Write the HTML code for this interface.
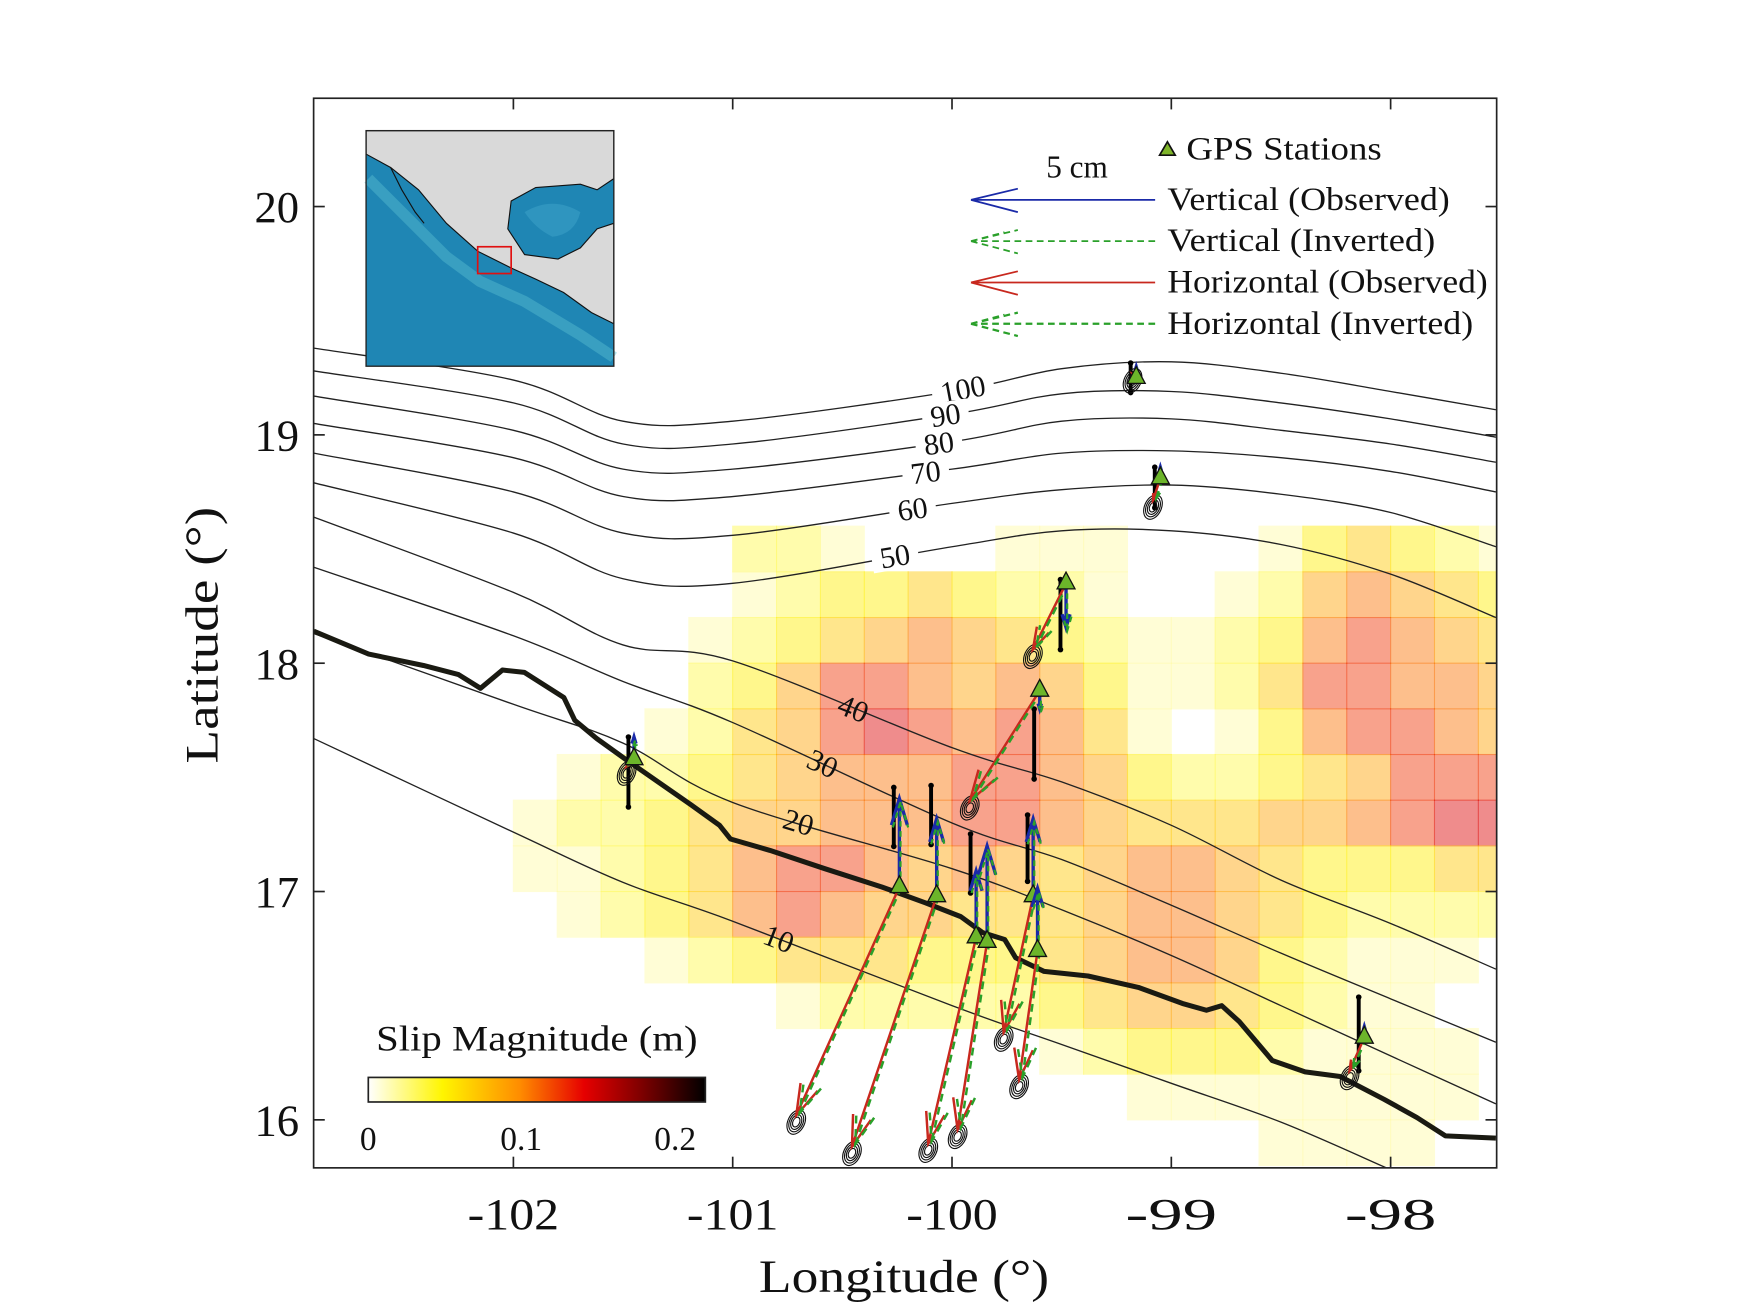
<!DOCTYPE html>
<html><head><meta charset="utf-8"><style>
html,body{margin:0;padding:0;background:#fff;}
svg{display:block;}
text{font-family:"Liberation Serif",serif;fill:#111;}
</style></head><body>
<svg id="fig" width="1750" height="1313" viewBox="0 0 1568 1176" preserveAspectRatio="none" xmlns="http://www.w3.org/2000/svg">
<defs><clipPath id="plotclip"><rect x="281" y="88" width="1060" height="958"/></clipPath></defs>
<rect x="0" y="0" width="1568" height="1176" fill="#fff"/>
<g id="heat" clip-path="url(#plotclip)"></g>
<g id="contours" clip-path="url(#plotclip)"></g>
<g id="coast" clip-path="url(#plotclip)"></g>
<g id="stations" clip-path="url(#plotclip)"></g>
<rect x="281" y="88" width="1060" height="958" fill="none" stroke="#222" stroke-width="1.5"/>
<g id="ticks"></g>
<g id="inset">
  <rect x="328" y="117" width="222" height="211" fill="#1f86b4"/>
  <path d="M328,117 L550,117 L550,160 L535,170 L520,165 L480,168 L458,180 L455,205 L470,228 L500,232 L520,222 L535,205 L550,200 L550,290 L530,280 L505,262 L480,250 L458,240 L428,225 L400,200 L375,170 L350,150 L328,138 Z" fill="#d9d9d9" stroke="#111" stroke-width="1"/>
  <path d="M470,190 Q495,175 520,190 Q515,210 495,212 Q480,205 470,190 Z" fill="#2f95bf"/>
  <path d="M350,150 L360,170 L372,190 L380,200" fill="none" stroke="#111" stroke-width="1"/>
  <path d="M330,160 L345,175 L400,230 L430,252 L470,270 L520,300 L550,320" fill="none" stroke="#58bfd0" stroke-width="10" opacity="0.45"/>
  <rect x="428" y="221" width="30" height="24" fill="none" stroke="#e01010" stroke-width="1.5"/>
  <rect x="328" y="117" width="222" height="211" fill="none" stroke="#222" stroke-width="1.2"/>
</g>
<g id="legend">
  <g>
    <polygon points="1046,127 1039,139 1053,139" fill="#7fb52a" stroke="#111" stroke-width="1.5"/>
    <text x="1063" y="143" font-size="29" textLength="175" lengthAdjust="spacingAndGlyphs">GPS Stations</text>
  </g>
  <text x="965" y="159" font-size="28" text-anchor="middle">5 cm</text>
  <g>
    <path d="M1035,179 L870,179 M870,179 L912,169 M870,179 L912,190" stroke="#1a2aa8" stroke-width="1.6" fill="none"/>
    <text x="1046" y="188" font-size="29" textLength="253" lengthAdjust="spacingAndGlyphs">Vertical (Observed)</text>
  </g>
  <g>
    <path d="M1035,216 L870,216 M870,216 L912,206 M870,216 L912,227 M870,216 L900,208" stroke="#2aa02a" stroke-width="1.6" fill="none" stroke-dasharray="6,4"/>
    <text x="1046" y="225" font-size="29" textLength="240" lengthAdjust="spacingAndGlyphs">Vertical (Inverted)</text>
  </g>
  <g>
    <path d="M1035,253 L870,253 M870,253 L912,243 M870,253 L912,264" stroke="#c8281e" stroke-width="1.6" fill="none"/>
    <text x="1046" y="262" font-size="29" textLength="287" lengthAdjust="spacingAndGlyphs">Horizontal (Observed)</text>
  </g>
  <g>
    <path d="M1035,290 L870,290 M870,290 L912,280 M870,290 L912,301 M870,290 L900,282" stroke="#2aa02a" stroke-width="2" fill="none" stroke-dasharray="6,4"/>
    <text x="1046" y="299" font-size="29" textLength="274" lengthAdjust="spacingAndGlyphs">Horizontal (Inverted)</text>
  </g>
</g>
<g id="colorbar">
  <text x="337" y="941" font-size="32" textLength="288" lengthAdjust="spacingAndGlyphs">Slip Magnitude (m)</text>
  <defs><linearGradient id="hotgrad" x1="0" x2="1" y1="0" y2="0">
    <stop offset="0" stop-color="#ffffff"/><stop offset="0.22" stop-color="#fff500"/>
    <stop offset="0.45" stop-color="#ff8c00"/><stop offset="0.64" stop-color="#e60000"/>
    <stop offset="0.82" stop-color="#780000"/><stop offset="1" stop-color="#000"/></linearGradient></defs>
  <rect x="330" y="965" width="302" height="22" fill="url(#hotgrad)" stroke="#222" stroke-width="1.5"/>
  <text x="330" y="1030" font-size="30" text-anchor="middle">0</text>
  <text x="467" y="1030" font-size="30" text-anchor="middle">0.1</text>
  <text x="605" y="1030" font-size="30" text-anchor="middle">0.2</text>
</g>
<text x="680" y="1157" font-size="42" textLength="260" lengthAdjust="spacingAndGlyphs">Longitude (°)</text>
<text x="0" y="0" font-size="42" text-anchor="middle" textLength="230" lengthAdjust="spacingAndGlyphs" transform="translate(195,569) rotate(-90)">Latitude (°)</text>
</svg>
<script>
// ---- axes ----
const X0=460, XS=196.5, Y0=185, YS=204.5;
function xs(lon){return X0+(lon+102)*XS;}
function ys(lat){return Y0+(20-lat)*YS;}
const NS='http://www.w3.org/2000/svg';
function mk(tag,attrs,parent){const e=document.createElementNS(NS,tag);for(const k in attrs)e.setAttribute(k,attrs[k]);parent.appendChild(e);return e;}

// ---- data ----
const lonTicks=[-102,-101,-100,-99,-98];
const latTicks=[20,19,18,17,16];
const heatLon0=-102.0, heatLatTop=18.6, cellDeg=0.2;
const heatRows=[
"00000221000111000134321",
"00000123343221001256543",
"00001234565432112367654",
"00002357765653112477665",
"00012457876764101367765",
"01223456667765322345777",
"12234556667765444556788",
"11234677656545665433344",
"01234676554445665432222",
"00012344433345665321110",
"00000012222234554321100",
"00000000000012333211110",
"00000000000000111111110",
"00000000000000000111100"];
const slipPerLevel=0.018;
const coastLon=[-102.91,-102.66,-102.41,-102.25,-102.15,-102.05,-101.95,-101.77,-101.72,-101.62,-101.49,-101.34,-101.19,-101.06,-101.01,-100.83,-100.58,-100.32,-100.12,-99.96,-99.86,-99.76,-99.71,-99.58,-99.38,-99.15,-98.95,-98.84,-98.77,-98.69,-98.54,-98.39,-98.23,-98.03,-97.88,-97.75,-97.52];
const coastLat=[18.14,18.04,17.99,17.95,17.89,17.97,17.96,17.85,17.75,17.67,17.58,17.48,17.38,17.29,17.23,17.18,17.10,17.02,16.95,16.89,16.82,16.79,16.71,16.65,16.63,16.58,16.51,16.48,16.50,16.43,16.26,16.21,16.19,16.09,16.01,15.93,15.92];
const contourLon=[-102.91,-102,-101.5,-101,-100,-99.5,-99,-98.5,-98,-97.52];
const depth100=[19.38,19.24,19.06,19.06,19.19,19.29,19.32,19.27,19.19,19.11];
const depth90=[19.28,19.14,18.96,18.96,19.09,19.18,19.19,19.14,19.07,18.99];
const depth80=[19.17,19.02,18.85,18.85,18.97,19.06,19.07,19.02,18.96,18.88];
const depth70=[19.05,18.90,18.73,18.73,18.85,18.92,18.93,18.90,18.84,18.75];
const depth60=[18.92,18.75,18.57,18.56,18.70,18.76,18.78,18.74,18.66,18.51];
const depth50=[18.79,18.57,18.37,18.35,18.51,18.58,18.58,18.52,18.39,18.20];
const depth40=[18.64,18.31,18.08,18.01,17.63,17.48,17.29,17.05,16.86,16.66];
const depth30=[18.42,18.12,17.92,17.74,17.30,17.14,16.94,16.73,16.53,16.34];
const depth20=[18.13,17.82,17.65,17.39,17.10,16.92,16.72,16.50,16.28,16.07];
const depth10Lon=[-102.91,-102,-101.5,-101,-100,-99.5,-99,-98.5,-98.02];
const depth10=[17.67,17.26,17.04,16.87,16.50,16.33,16.16,15.99,15.79];
const contourLabels=["100","90","80","70","60","50","40","30","20","10"];
const labelLon=[-99.95,-100.03,-100.06,-100.12,-100.18,-100.26,-100.45,-100.59,-100.70,-100.79];
const stLon=[-101.45,-99.16,-99.05,-99.48,-99.60,-100.24,-100.07,-99.89,-99.84,-99.63,-99.61,-98.12];
const stLat=[17.58,19.25,18.81,18.35,17.88,17.02,16.98,16.80,16.78,16.98,16.74,16.36];
const hEast=[-0.2,-0.1,-0.2,-0.9,-1.9,-2.8,-2.3,-1.3,-0.8,-0.8,-0.5,-0.4];
const hNorth=[-0.2,0.1,-0.6,-1.8,-3.0,-6.2,-6.8,-5.6,-5.1,-3.7,-3.5,-0.9];
const vUp=[0.6,0.3,0.3,-1.2,-0.5,2.4,2.1,1.8,2.6,2.1,1.7,0.3];
const barTop=[0.6,0.4,0.3,0.1,-0.5,2.7,3.0,2.8,0,2.2,0,1.1];
const barBot=[-1.3,-0.4,-0.8,-1.8,-2.4,1.1,1.4,1.2,0,0.4,0,-0.9];
const pxPerCm=33;

// ---- colormap ----
const cmapStops=[[0,255,255,255],[0.05,255,245,0],[0.1,255,140,0],[0.14,230,0,0],[0.18,120,0,0],[0.22,0,0,0]];
function hot(v){for(let i=1;i<cmapStops.length;i++){const a=cmapStops[i-1],b=cmapStops[i];if(v<=b[0]){const t=(v-a[0])/(b[0]-a[0]);return 'rgb('+[1,2,3].map(k=>Math.round(a[k]+(b[k]-a[k])*t)).join(',')+')';}}return '#000';}

// ---- heatmap ----
const heat=document.getElementById('heat');
heatRows.forEach((row,r)=>{for(let c=0;c<row.length;c++){const lvl=+row[c];if(!lvl)continue;
  const lon=heatLon0+c*cellDeg, lat=heatLatTop-r*cellDeg;
  const x1=xs(lon),x2=xs(lon+cellDeg),y1=ys(lat),y2=ys(lat-cellDeg);
  const el=mk('rect',{x:x1-0.5,y:y1-0.5,width:x2-x1+1,height:y2-y1+1,fill:hot(lvl*slipPerLevel),'fill-opacity':0.45},heat);
  
  }});

// ---- contours ----
const cg=document.getElementById('contours');
const cSets=[depth100,depth90,depth80,depth70,depth60,depth50,depth40,depth30,depth20];
function interp(lons,lats,lon){for(let i=1;i<lons.length;i++){if(lon<=lons[i]){const t=(lon-lons[i-1])/(lons[i]-lons[i-1]);return lats[i-1]+(lats[i]-lats[i-1])*t;}}return lats[lats.length-1];}
function smoothPath(pts){let d='M'+pts[0][0]+','+pts[0][1];for(let i=1;i<pts.length;i++){const p0=pts[i-2]||pts[i-1],p1=pts[i-1],p2=pts[i],p3=pts[i+1]||p2;
  const c1=[p1[0]+(p2[0]-p0[0])/6,p1[1]+(p2[1]-p0[1])/6],c2=[p2[0]-(p3[0]-p1[0])/6,p2[1]-(p3[1]-p1[1])/6];
  d+=' C'+c1+' '+c2+' '+p2;}return d;}
function drawContour(lons,lats,idx){
  const pts=lons.map((l,i)=>[xs(l),ys(lats[i])]);
  const p=mk('path',{d:smoothPath(pts),fill:'none',stroke:'#222','stroke-width':1.2},cg);
  
  
  const lx=xs(labelLon[idx]), ly=ys(interp(lons,lats,labelLon[idx]));
  const ang=Math.atan2(ys(interp(lons,lats,labelLon[idx]+0.1))-ys(interp(lons,lats,labelLon[idx]-0.1)),xs(labelLon[idx]+0.1)-xs(labelLon[idx]-0.1))*180/Math.PI;
  const g=mk('g',{transform:'translate('+lx+','+ly+') rotate('+ang+')'},cg);
  
  
  const w=contourLabels[idx].length*14+14;
  if(idx<6) mk('rect',{x:-w/2,y:-12,width:w,height:24,fill:'#fff'},g);
  const t=mk('text',{x:0,y:9,'font-size':27,'text-anchor':'middle'},g);
  t.textContent=contourLabels[idx];
}
cSets.forEach((lats,i)=>drawContour(contourLon,lats,i));
drawContour(depth10Lon,depth10,9);

// ---- coastline ----
const coast=document.getElementById('coast');
const cpts=coastLon.map((l,i)=>xs(l)+','+ys(coastLat[i])).join(' ');
const cl=mk('polyline',{points:cpts,fill:'none',stroke:'#1a1a12','stroke-width':4.5,'stroke-linejoin':'round'},coast);



// ---- stations ----
const sg=document.getElementById('stations');
function arrow(x1,y1,x2,y2,color,w,dash,name){
  const g=mk('g',{},sg);
  
  
  const L=Math.hypot(x2-x1,y2-y1); if(L<2)return g;
  const ux=(x2-x1)/L,uy=(y2-y1)/L,h=Math.min(28,L*0.3);
  const a1=[x2-h*ux+h*0.3*uy,y2-h*uy-h*0.3*ux],a2=[x2-h*ux-h*0.3*uy,y2-h*uy+h*0.3*ux];
  const attrs={d:'M'+x1+','+y1+' L'+x2+','+y2+' M'+a1+' L'+x2+','+y2+' L'+a2,fill:'none',stroke:color,'stroke-width':w};
  if(dash)attrs['stroke-dasharray']=dash;
  mk('path',attrs,g);return g;}
stLon.forEach((lon,i)=>{
  const x=xs(lon),y=ys(stLat[i]);
  if(barTop[i]!==barBot[i]){
    const b=mk('line',{x1:x-5,x2:x-5,y1:y-barTop[i]*pxPerCm,y2:y-barBot[i]*pxPerCm,stroke:'#000','stroke-width':3.5},sg);
    
    
    mk('circle',{cx:x-5,cy:y-barTop[i]*pxPerCm,r:2.5,fill:'#000'},sg);
    mk('circle',{cx:x-5,cy:y-barBot[i]*pxPerCm,r:2.5,fill:'#000'},sg);
  }
  const hx=x+hEast[i]*pxPerCm, hy=y-hNorth[i]*pxPerCm;
  const eg=mk('g',{transform:'translate('+hx+','+(hy+6)+') rotate(25)'},sg);
  
  
  [10,8,6,4].forEach(r=>mk('ellipse',{cx:0,cy:0,rx:r*0.75,ry:r*1.15,fill:'none',stroke:'#111','stroke-width':1},eg));
  arrow(x,y,hx,hy,'#c8281e',2.2,null,'horizontal-observed-arrow');
  arrow(x+2,y,hx+3,hy-2,'#2aa02a',2.2,'7,5','horizontal-inverted-arrow');
  const vy=y-vUp[i]*pxPerCm;
  arrow(x,y,x,vy,'#1a2aa8',3,null,'vertical-observed-arrow');
  arrow(x+1,y,x+1,vy+3,'#2aa02a',2,'5,4','vertical-inverted-arrow');
  const tri=mk('polygon',{points:(x)+','+(y-10)+' '+(x-8)+','+(y+5)+' '+(x+8)+','+(y+5),fill:'#6cb52a',stroke:'#111','stroke-width':1.2},sg);
  
  
});

// ---- ticks ----
const tg=document.getElementById('ticks');
lonTicks.forEach(v=>{const x=xs(v);
  mk('line',{x1:x,x2:x,y1:1046,y2:1036,stroke:'#222','stroke-width':1.5},tg);
  mk('line',{x1:x,x2:x,y1:88,y2:98,stroke:'#222','stroke-width':1.5},tg);
  const t=mk('text',{x:x,y:1101,'font-size':40,'text-anchor':'middle',textLength:82,lengthAdjust:'spacingAndGlyphs'},tg);
  t.textContent=String(v);
  
  });
latTicks.forEach(v=>{const y=ys(v);
  mk('line',{x1:281,x2:291,y1:y,y2:y,stroke:'#222','stroke-width':1.5},tg);
  mk('line',{x1:1341,x2:1331,y1:y,y2:y,stroke:'#222','stroke-width':1.5},tg);
  const t=mk('text',{x:268,y:y+14,'font-size':40,'text-anchor':'end'},tg);
  t.textContent=v;
  
  });
</script>
</body></html>
